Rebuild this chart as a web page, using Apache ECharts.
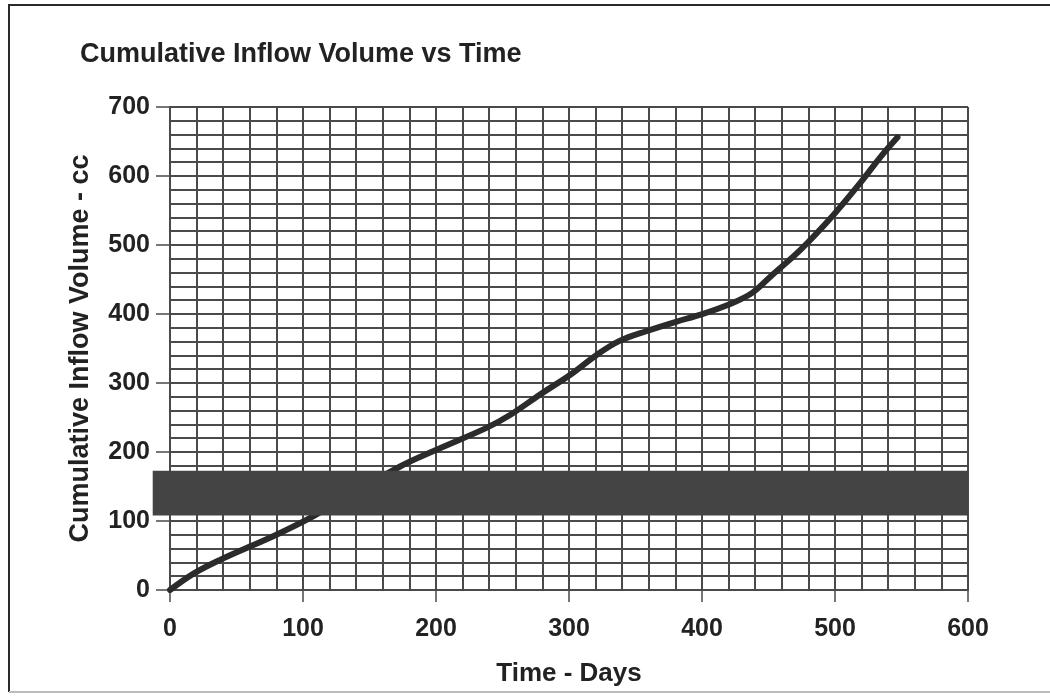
<!DOCTYPE html>
<html>
<head>
<meta charset="utf-8">
<script src="https://cdn.jsdelivr.net/npm/echarts@6/dist/echarts.min.js"></script>
<style>
html,body{margin:0;padding:0;background:#fff;}
#chart{width:1050px;height:696px;}
</style>
</head>
<body>
<div id="chart"></div>
<script>
// Data
const days   = [0, 18, 38, 60, 80, 105, 173, 200, 238, 256, 278, 301, 321, 338, 358, 381, 399, 423, 438, 453, 474, 499, 519, 534, 547];
const volume = [0, 24, 44, 63, 80, 104, 179, 203, 235, 254, 283, 312, 341, 361, 375, 389, 399, 416, 431, 457, 493, 544, 590, 627, 656];
const xTicks = [0, 100, 200, 300, 400, 500, 600];
const yTicks = [0, 100, 200, 300, 400, 500, 600, 700];
// redaction band (in data units)
const bandDays = [-13, 600];
const bandVolume = [108, 173];

const titleText = 'Cumulative Inflow Volume vs Time';
const xName = 'Time - Days';
const yName = 'Cumulative Inflow Volume - cc';

const FONT = '"Liberation Sans", Arial, sans-serif';
const TXT = '#222222';
const GRID = '#4a4a4a';

const chart = echarts.init(document.getElementById('chart'), null, {renderer: 'canvas'});

const lineData = days.map((d, i) => [d, volume[i]]);

chart.setOption({
  backgroundColor: '#ffffff',
  animation: false,
  title: {
    text: titleText,
    left: 75, top: 36,
    textStyle: {fontFamily: FONT, fontWeight: 'bold', fontSize: 27, color: TXT}
  },
  graphic: [{
    type: 'polyline',
    shape: {points: [[9, 692], [9, 5], [1060, 5]]},
    style: {fill: 'none', stroke: '#2a2a2a', lineWidth: 2},
    silent: true
  }, {
    type: 'line',
    shape: {x1: 9, y1: 692, x2: 1060, y2: 692},
    style: {stroke: '#bdbdbd', lineWidth: 2},
    silent: true
  }],
  grid: {left: 170, right: 82, top: 107, bottom: 106, containLabel: false},
  xAxis: {
    type: 'value',
    min: xTicks[0], max: xTicks[xTicks.length - 1], interval: xTicks[1] - xTicks[0],
    name: xName, nameLocation: 'middle', nameGap: 71,
    nameTextStyle: {fontFamily: FONT, fontWeight: 'bold', fontSize: 26, color: TXT},
    axisLine: {show: true, lineStyle: {color: GRID, width: 2}},
    axisTick: {show: true, length: 12, lineStyle: {color: GRID, width: 1.5}},
    axisLabel: {margin: 27, fontFamily: FONT, fontWeight: 'bold', fontSize: 25, color: TXT},
    splitLine: {show: true, lineStyle: {color: GRID, width: 2}},
    minorTick: {show: false, splitNumber: 5},
    minorSplitLine: {show: true, lineStyle: {color: GRID, width: 2}}
  },
  yAxis: {
    type: 'value',
    min: yTicks[0], max: yTicks[yTicks.length - 1], interval: yTicks[1] - yTicks[0],
    name: yName, nameLocation: 'middle', nameGap: 76, nameRotate: 90,
    nameTextStyle: {fontFamily: FONT, fontWeight: 'bold', fontSize: 27, color: TXT},
    axisLine: {show: true, lineStyle: {color: GRID, width: 2}},
    axisTick: {show: true, length: 14, lineStyle: {color: GRID, width: 1.5}},
    axisLabel: {margin: 20, fontFamily: FONT, fontWeight: 'bold', fontSize: 25, color: TXT},
    splitLine: {show: true, lineStyle: {color: GRID, width: 2}},
    minorTick: {show: false, splitNumber: 5},
    minorSplitLine: {show: true, lineStyle: {color: GRID, width: 2}}
  },
  series: [{
    type: 'line',
    data: lineData,
    smooth: 0.35,
    showSymbol: false,
    symbol: 'none',
    lineStyle: {color: '#2b2b2b', width: 6, cap: 'round', join: 'round'},
    z: 3
  }, {
    type: 'custom',
    clip: false,
    z: 5,
    data: [[bandDays[0], bandVolume[0], bandDays[1], bandVolume[1]]],
    renderItem: function (params, api) {
      const p0 = api.coord([api.value(0), api.value(3)]);
      const p1 = api.coord([api.value(2), api.value(1)]);
      return {
        type: 'rect',
        shape: {x: p0[0], y: p0[1], width: p1[0] - p0[0], height: p1[1] - p0[1]},
        style: {fill: '#444444'}
      };
    }
  }]
});
</script>
</body>
</html>
